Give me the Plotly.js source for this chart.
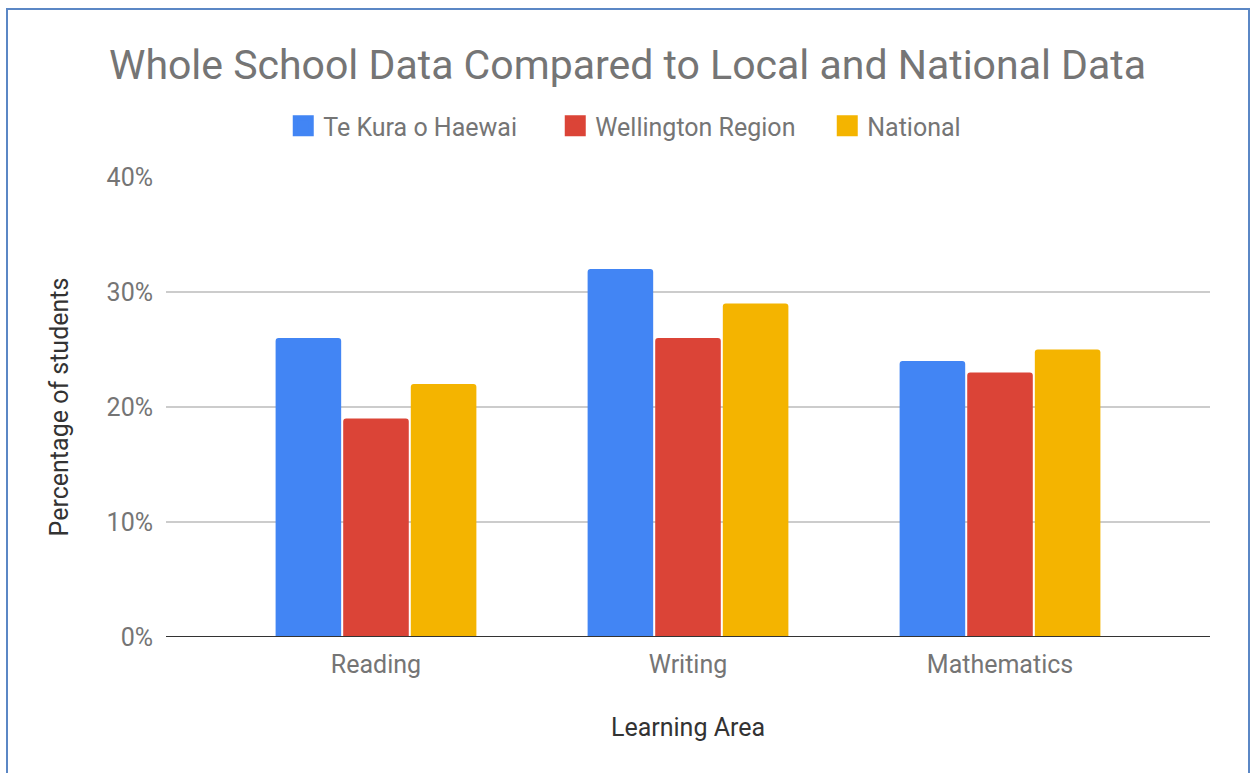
<!DOCTYPE html>
<html><head><meta charset="utf-8">
<script src="https://cdn.plot.ly/plotly-3.0.1.min.js"></script>
<style>
html,body{margin:0;padding:0;background:#fff;}
#wrap{position:relative;width:1250px;height:773px;}
#chart{position:absolute;left:0;top:0;width:1250px;height:773px;}
#frame{position:absolute;left:6px;top:8px;width:1240px;height:780px;border:2px solid #5b87c5;pointer-events:none;}
</style></head>
<body><div id="wrap"><div id="chart"></div><div id="frame"></div></div>
<script>
const categories = ["Reading", "Writing", "Mathematics"];
const seriesNames = ["Te Kura o Haewai", "Wellington Region", "National"];
const teKura = [0.26, 0.32, 0.24];
const wellington = [0.19, 0.26, 0.23];
const national = [0.22, 0.29, 0.25];
const yTicks = [0, 0.1, 0.2, 0.3, 0.4];
const yTickLabels = ["0%", "10%", "20%", "30%", "40%"];
const colors = ["#4285f4", "#db4437", "#f4b400"];
const values = [teKura, wellington, national];

const traces = [];
values.forEach((v, i) => {
  traces.push({type: "bar", x: categories, y: v, name: seriesNames[i], showlegend: false,
    marker: {color: colors[i], cornerradius: 3, line: {width: 0}}, hoverinfo: "x+y"});
});
values.forEach((v, i) => {
  traces.push({type: "scatter", mode: "markers", x: [null], y: [null], name: seriesNames[i],
    marker: {symbol: "square", size: 16, color: colors[i], line: {color: colors[i], width: 5}}, showlegend: true});
});

const layout = {
  width: 1250, height: 773,
  margin: {l: 166, r: 40, t: 177, b: 136},
  paper_bgcolor: "#ffffff", plot_bgcolor: "#ffffff",
  font: {family: "Roboto, Arial, sans-serif", color: "#757575", size: 25},
  title: {text: "Whole School Data Compared to Local and National Data",
    font: {size: 41, color: "#757575", family: "Roboto, Arial, sans-serif"},
    x: 0.502, xref: "container", xanchor: "center", y: 1 - 65/773, yref: "container", yanchor: "middle"},
  barmode: "group", bargap: 0.35, bargroupgap: 0.03,
  legend: {orientation: "h", x: 0.553, xref: "container", xanchor: "center",
    y: 1 - 126/773, yref: "container", yanchor: "middle",
    font: {size: 25, color: "#757575"}, itemwidth: 30, traceorder: "normal",
    entrywidth: 227, entrywidthmode: "pixels"},
  xaxis: {type: "category", range: [-0.673, 2.673], showgrid: false, zeroline: false,
    showline: false, ticks: "", tickfont: {size: 25, color: "#757575"}, ticklabelstandoff: 10,
    title: {text: "Learning Area", font: {size: 25, color: "#333333"}, standoff: 40}},
  yaxis: {range: [0, 0.4], tickvals: yTicks, ticktext: yTickLabels,
    gridcolor: "#cccccc", gridwidth: 1.5, zeroline: false, showline: false, ticks: "",
    tickfont: {size: 25, color: "#757575"}, ticklabelstandoff: 12,
    title: {text: "Percentage of students", font: {size: 25, color: "#333333"}, standoff: 30}},
  shapes: [{type: "line", xref: "paper", yref: "y", x0: 0, x1: 1, y0: 0, y1: 0,
    line: {color: "#333333", width: 2}}]
};
Plotly.newPlot("chart", traces, layout, {displayModeBar: false, staticPlot: true});
</script></body></html>
